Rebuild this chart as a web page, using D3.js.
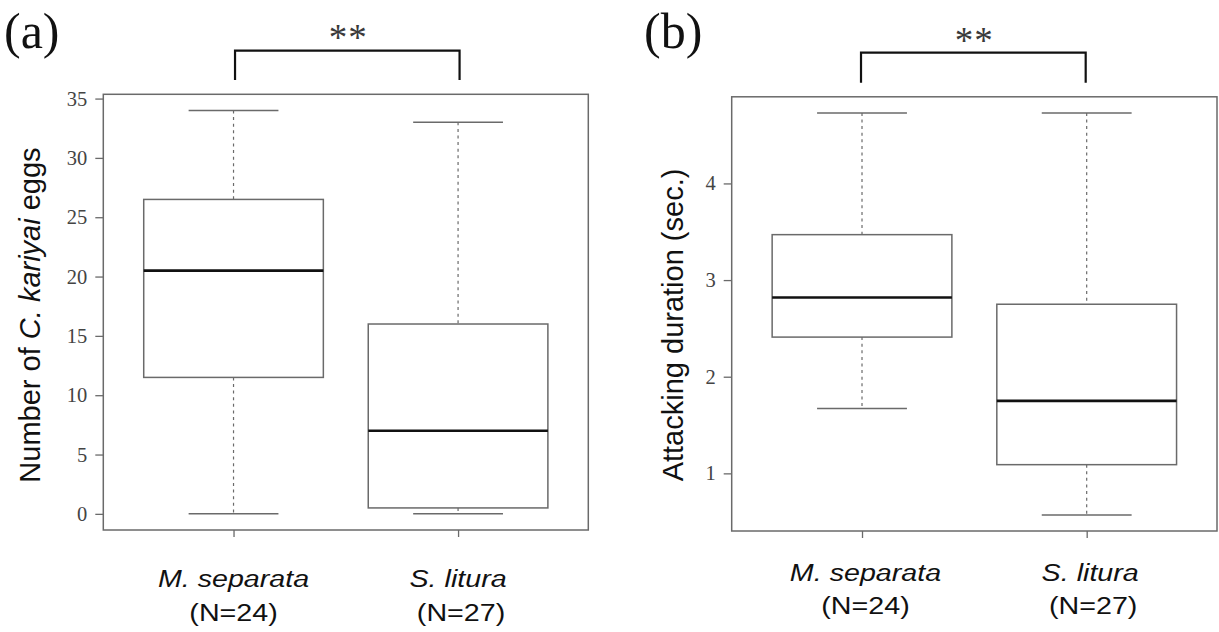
<!DOCTYPE html>
<html>
<head>
<meta charset="utf-8">
<script src="https://cdn.jsdelivr.net/npm/d3@7"></script>
<style>
  html, body { margin: 0; padding: 0; background: #fff; }
  svg { display: block; }
</style>
</head>
<body>
<svg id="chart" width="1219" height="632"></svg>
<script>
// ---- data ----
const categories = ["M. separata", "S. litura"];
const sampleSizes = ["(N=24)", "(N=27)"];

// (a) number of C. kariyai eggs
const eggsMin    = [0, 0];
const eggsQ1     = [11.5, 0.5];
const eggsMedian = [20.5, 7];
const eggsQ3     = [26.5, 16];
const eggsMax    = [34, 33];
const eggsTicks  = [0, 5, 10, 15, 20, 25, 30, 35];

// (b) attacking duration (sec.)
const durMin    = [1.67, 0.57];
const durQ1     = [2.41, 1.09];
const durMedian = [2.82, 1.75];
const durQ3     = [3.47, 2.75];
const durMax    = [4.73, 4.73];
const durTicks  = [1, 2, 3, 4];

const panelLabels = ["(a)", "(b)"];
const signif = ["**", "**"];

// ---- drawing ----
const svg = d3.select("#chart");
const GREY = "#6a6a6a";

function rangeR(mins, maxs) {
  const lo = d3.min(mins), hi = d3.max(maxs);
  const e = (hi - lo) * 0.04;
  return [lo - e, hi + e];
}

const panels = [
  { label: panelLabels[0], sig: signif[0], min: eggsMin, q1: eggsQ1, med: eggsMedian, q3: eggsQ3, max: eggsMax, ticks: eggsTicks,
    left: 103.3, right: 588.3, top: 94.3, bottom: 530,
    labelX: 4, labelY: 48, sigY: 50, bracketTop: 50.7, bracketBot: 80, bracketDx: 1.5,
    titleX: 40, titleY: 315,
    title: [["Number of ", "normal"], ["C. kariyai", "italic"], [" eggs", "normal"]],
    xl1: 587, xl2: 621, xlDx: 0 },
  { label: panelLabels[1], sig: signif[1], min: durMin, q1: durQ1, med: durMedian, q3: durQ3, max: durMax, ticks: durTicks,
    left: 731.7, right: 1217, top: 96.8, bottom: 531,
    labelX: 644, labelY: 48, sigY: 52.5, bracketTop: 52.7, bracketBot: 82.7, bracketDx: -1,
    titleX: 683, titleY: 325,
    title: [["Attacking duration (sec.)", "normal"]],
    xl1: 581, xl2: 614, xlDx: 3.5 }
];

panels.forEach(p => {
  const g = svg.append("g");
  const x = d3.scaleLinear().domain([0.42, 2.58]).range([p.left, p.right]);
  const y = d3.scaleLinear().domain(rangeR(p.min, p.max)).range([p.bottom, p.top]);

  // plot frame
  g.append("rect")
    .attr("x", p.left).attr("y", p.top)
    .attr("width", p.right - p.left).attr("height", p.bottom - p.top)
    .attr("fill", "none").attr("stroke", GREY).attr("stroke-width", 1.5);

  // y axis
  const ya = g.append("g")
    .attr("transform", `translate(${p.left},0)`)
    .call(d3.axisLeft(y).tickValues(p.ticks).tickSize(8).tickPadding(8).tickFormat(d3.format("d")));
  ya.select(".domain").remove();
  ya.selectAll(".tick line").attr("stroke", GREY).attr("stroke-width", 1.3);
  ya.selectAll(".tick text")
    .attr("font-family", "'Liberation Serif', 'Times New Roman', serif")
    .attr("font-size", 20.5).attr("fill", "#444");

  // x axis ticks
  const xa = g.append("g")
    .attr("transform", `translate(0,${p.bottom})`)
    .call(d3.axisBottom(x).tickValues([1, 2]).tickSize(7).tickFormat(""));
  xa.select(".domain").remove();
  xa.selectAll(".tick line").attr("stroke", GREY).attr("stroke-width", 1.3);

  categories.forEach((c, i) => {
    const cx = x(i + 1);
    const hw = x(i + 1.4) - cx;   // box half width (0.8 units)
    const cw = x(i + 1.2) - cx;   // cap half width
    // whiskers (dashed)
    g.append("line").attr("x1", cx).attr("x2", cx)
      .attr("y1", y(p.max[i])).attr("y2", y(p.q3[i]))
      .attr("stroke", GREY).attr("stroke-width", 1.2).attr("stroke-dasharray", "3,3.6");
    g.append("line").attr("x1", cx).attr("x2", cx)
      .attr("y1", y(p.q1[i])).attr("y2", y(p.min[i]))
      .attr("stroke", GREY).attr("stroke-width", 1.2).attr("stroke-dasharray", "3,3.6");
    // caps
    [p.max[i], p.min[i]].forEach(v => {
      g.append("line").attr("x1", cx - cw).attr("x2", cx + cw)
        .attr("y1", y(v)).attr("y2", y(v))
        .attr("stroke", GREY).attr("stroke-width", 1.5);
    });
    // box
    g.append("rect")
      .attr("x", cx - hw).attr("width", 2 * hw)
      .attr("y", y(p.q3[i])).attr("height", y(p.q1[i]) - y(p.q3[i]))
      .attr("fill", "#fff").attr("stroke", GREY).attr("stroke-width", 1.5);
    // median
    g.append("line").attr("x1", cx - hw).attr("x2", cx + hw)
      .attr("y1", y(p.med[i])).attr("y2", y(p.med[i]))
      .attr("stroke", "#111").attr("stroke-width", 2.6);

    // category labels
    const lx = cx + p.xlDx;
    g.append("text")
      .attr("transform", `translate(${lx},${p.xl1}) scale(1.17,1)`)
      .attr("text-anchor", "middle")
      .attr("font-family", "'Liberation Sans', Arial, sans-serif")
      .attr("font-style", "italic").attr("font-size", 24.5).attr("fill", "#111")
      .text(c);
    g.append("text")
      .attr("transform", `translate(${lx + (i === 1 ? 3 : 0)},${p.xl2}) scale(1.17,1)`)
      .attr("text-anchor", "middle")
      .attr("font-family", "'Liberation Sans', Arial, sans-serif")
      .attr("font-size", 24.5).attr("fill", "#111")
      .text(sampleSizes[i]);
  });

  // significance bracket
  const bx1 = x(1) + p.bracketDx, bx2 = x(2) + p.bracketDx;
  g.append("path")
    .attr("d", `M${bx1},${p.bracketBot}V${p.bracketTop}H${bx2}V${p.bracketBot}`)
    .attr("fill", "none").attr("stroke", "#111").attr("stroke-width", 2.2);
  g.append("text")
    .attr("x", (bx1 + bx2) / 2 + 1).attr("y", p.sigY)
    .attr("text-anchor", "middle")
    .attr("font-family", "'Liberation Serif', 'Times New Roman', serif")
    .attr("font-size", 37).attr("letter-spacing", 1).attr("fill", "#3a3a3a")
    .text(p.sig);

  // panel label
  g.append("text")
    .attr("x", p.labelX).attr("y", p.labelY)
    .attr("font-family", "'Liberation Serif', 'Times New Roman', serif")
    .attr("font-size", 50).attr("fill", "#111")
    .text(p.label);

  // y title
  const t = g.append("text")
    .attr("transform", `translate(${p.titleX},${p.titleY}) rotate(-90)`)
    .attr("text-anchor", "middle")
    .attr("font-family", "'Liberation Sans', Arial, sans-serif")
    .attr("font-size", 29).attr("fill", "#111");
  p.title.forEach(([s, st]) => t.append("tspan").attr("font-style", st).text(s));
});
</script>
</body>
</html>
